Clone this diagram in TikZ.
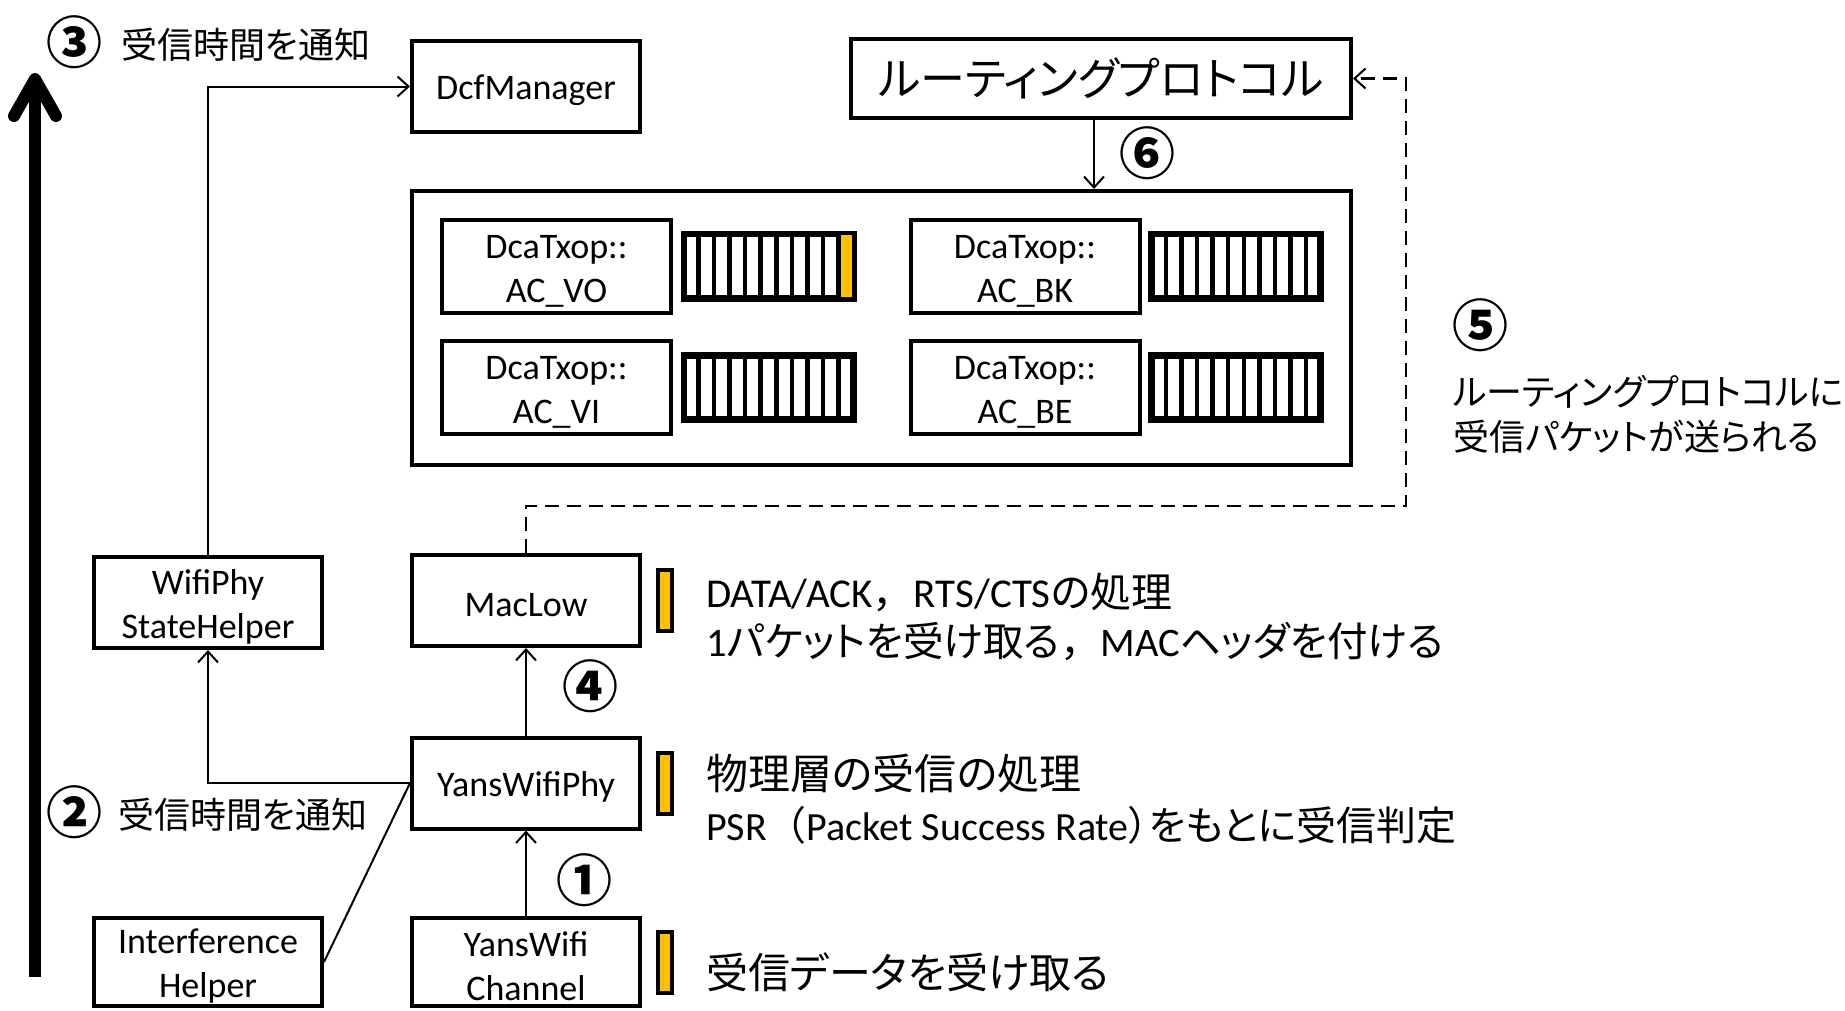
\documentclass[tikz,border=0pt]{standalone}
\usepackage{fontspec}
\setmainfont{Carlito}
\newfontfamily\jpf[RawFeature=+palt]{Noto Sans CJK JP}
\newfontfamily\jpc{Noto Sans CJK JP}
\newcommand\jp[1]{{\jpf #1}}
\newcommand\jpn[1]{{\jpc #1}}
\newcommand\tp{\rule{0pt}{33pt}}
\usetikzlibrary{arrows.meta,calc}
\definecolor{qorange}{HTML}{FFC000}
\tikzset{
  box/.style={draw, line width=4pt, minimum width=228pt, minimum height=91pt, inner sep=0pt, align=center, font=\fontsize{36}{44}\selectfont},
  acbox/.style={box, minimum width=229pt, minimum height=93pt},
  queue/.style={draw, line width=4.5pt, minimum width=167pt, minimum height=62pt, inner sep=0pt},
  qline/.style={line width=4.5pt},
  ybar/.style={draw, line width=4pt, fill=qorange, minimum width=14pt, minimum height=61pt, inner sep=0pt},
  conn/.style={line width=2pt},
  arr/.style={line width=2pt, -{Straight Barb[length=11pt, width=20pt, line width=2pt]}},
  dasharr/.style={line width=2.5pt, dash pattern=on 14pt off 8pt, -{Straight Barb[length=11pt, width=20pt, line width=2pt]}},
  circnum/.style={inner sep=0pt, font=\jpc\bfseries\fontsize{56}{56}\selectfont},
  lbl/.style={inner sep=0pt, anchor=west, font=\jpf\fontsize{36}{44}\selectfont},
  rtext/.style={inner sep=0pt, anchor=west, font=\fontsize{40}{48}\selectfont},
}
\begin{document}
\begin{tikzpicture}[x=1pt,y=-1pt]
\useasboundingbox (0,0) rectangle (1845,1010);
\fill[white] (0,0) rectangle (1845,1010);

% big vertical arrow
\coordinate (bigbot) at (35,977);
\coordinate (bigtop) at (35,79);
\draw[line width=12pt] (bigbot) -- (bigtop);
\draw[line width=12pt, line cap=round, line join=round] ($(bigtop)+(-21,37)$) -- (bigtop) -- ($(bigtop)+(21,37)$);

% top labels
\node[circnum] (n3) at (74,42) {③};
\node[lbl] (l3) at (121,45) {受信時間を通知};

% boxes
\node[box] (dcf) at (526,86.5) {\tp DcfManager};
\node[box, minimum width=500pt, minimum height=79pt, font=\jpf\fontsize{45}{52}\selectfont] (routing) at (1101,78.5) {ルーティングプロトコル};
\node[draw, line width=4pt, minimum width=939pt, minimum height=274pt, inner sep=0pt] (big) at (881.5,328) {};
\node[acbox] (vo) at (556.5,266.5) {\tp DcaTxop::\\AC\_VO};
\node[acbox] (vi) at (556.5,387.5) {\tp DcaTxop::\\AC\_VI};
\node[acbox] (bk) at (1025,266.5) {\tp DcaTxop::\\AC\_BK};
\node[acbox] (be) at (1025,387.5) {\tp DcaTxop::\\AC\_BE};
\node[queue] (qvo) at (768.5,266) {};
\node[queue] (qvi) at (768.5,387.5) {};
\node[queue] (qbk) at (1236,266) {};
\node[queue] (qbe) at (1236,387.5) {};
\fill[qorange] ($(qvo.north west)!0.90909!(qvo.north east)$) rectangle (qvo.south east);
\foreach \q in {qvo,qvi,qbk,qbe} {
  \foreach \i in {1,...,10} {
    \pgfmathsetmacro\fr{\i/11}
    \draw[qline] ($(\q.north west)!\fr!(\q.north east)$) -- ($(\q.south west)!\fr!(\q.south east)$);
  }
  \draw[qline] (\q.north west) rectangle (\q.south east);
}

\node[box] (wsh) at (208,602.5) {\tp WifiPhy\\StateHelper};
\node[box] (maclow) at (526,600.5) {\tp MacLow};
\node[box] (yans) at (526,783) {\tp YansWifiPhy};
\node[box, minimum height=88pt] (interf) at (208,962) {\tp Interference\\Helper};
\node[box, minimum height=88pt] (chan) at (526,962) {\tp YansWifi\\Channel};

% yellow bars
\node[ybar] (yb1) at ([xshift=23pt]maclow.east) {};
\node[ybar] (yb2) at ([xshift=23pt]yans.east) {};
\node[ybar] (yb3) at ([xshift=23pt]chan.east) {};

% connectors
\draw[arr] (wsh.north) |- (dcf.west);
\draw[arr] ([xshift=-7pt]routing.south) -- ([xshift=-7pt]routing.south |- big.north);
\coordinate (dashcorner) at (1406,506);
\draw[dasharr] (maclow.north) |- (dashcorner) |- (routing.east);
\draw[arr] (yans.west) -| (wsh.south);
\draw[conn] (interf.east) -- (yans.west);
\draw[arr] (chan.north) -- (yans.south);
\draw[arr] (yans.north) -- (maclow.south);

% circled numbers
\node[circnum] (n1) at (584,880) {①};
\node[circnum] (n2) at (74,812) {②};
\node[circnum] (n4) at (590,686) {④};
\node[circnum] (n5) at (1480,325) {⑤};
\node[circnum] (n6) at (1147,153) {⑥};
\node[lbl] (l2) at (118,815) {受信時間を通知};
\node[lbl] (l5a) at (1453,392) {ルーティングプロトコルに};
\node[lbl] (l5b) at (1453,437) {受信パケットが送られる};

% right texts
\node[rtext, font=\fontsize{41}{48}\selectfont] (t1) at (706,592) {DATA/ACK\jpn{，}RTS/CTS\jp{の処理}};
\node[rtext, font=\fontsize{40.5}{48}\selectfont] (t2) at (706,642) {1\jp{パケットを受け取る}\jpn{，}MAC\jp{ヘッダを付ける}};
\node[rtext, font=\jpf\fontsize{42}{50}\selectfont] (t3) at (706,773) {物理層の受信の処理};
\node[rtext] (t4) at (706,825) {PSR\jpn{（}Packet Success Rate\jp{）をもとに受信判定}};
\node[rtext, font=\jpf\fontsize{42}{50}\selectfont] (t5) at (706,972) {受信データを受け取る};
\end{tikzpicture}
\end{document}
